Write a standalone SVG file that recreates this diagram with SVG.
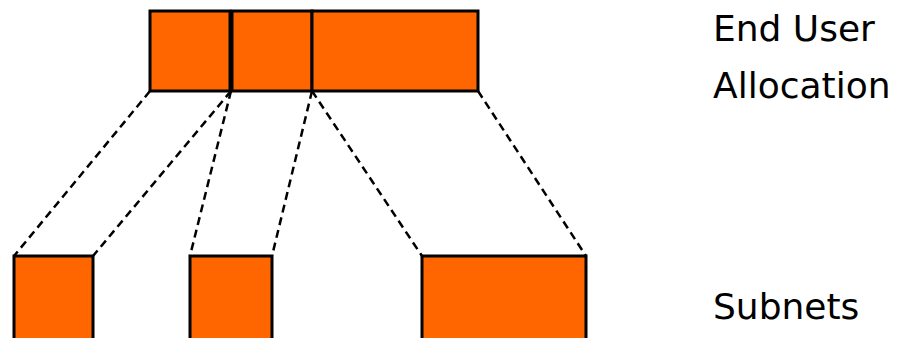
<svg xmlns="http://www.w3.org/2000/svg" width="899" height="338" viewBox="0 0 899 338">
<style>
.blk{fill:#ff6600;stroke:#000;stroke-width:3}
.con{stroke:#000;stroke-width:2.5;stroke-dasharray:8,5;fill:none}
.lbl{font-family:"DejaVu Sans",Verdana,sans-serif;font-size:36px;fill:#000}
</style>
<rect width="899" height="338" fill="#fff"/>
<g id="connectors">
<line class="con" x1="150" y1="91" x2="14" y2="256"/>
<line class="con" x1="231" y1="91" x2="93" y2="256"/>
<line class="con" x1="231" y1="91" x2="190" y2="256"/>
<line class="con" x1="312" y1="91" x2="272" y2="256"/>
<line class="con" x1="312" y1="91" x2="422" y2="256"/>
<line class="con" x1="478" y1="91" x2="586" y2="256"/>
</g>
<g id="alloc1"><rect class="blk" x="150" y="11" width="80" height="80"/></g>
<g id="alloc2"><rect class="blk" x="232" y="11" width="80" height="80"/></g>
<g id="alloc3"><rect class="blk" x="312" y="11" width="166" height="80"/></g>
<g id="subnet1"><rect class="blk" x="14" y="256" width="79" height="90"/></g>
<g id="subnet2"><rect class="blk" x="190" y="256" width="82" height="90"/></g>
<g id="subnet3"><rect class="blk" x="422" y="256" width="164" height="90"/></g>
<g id="label-top"><text class="lbl" x="713" y="41">End User</text><text class="lbl" x="713" y="98">Allocation</text></g>
<g id="label-bottom"><text class="lbl" x="713" y="319">Subnets</text></g>
</svg>
